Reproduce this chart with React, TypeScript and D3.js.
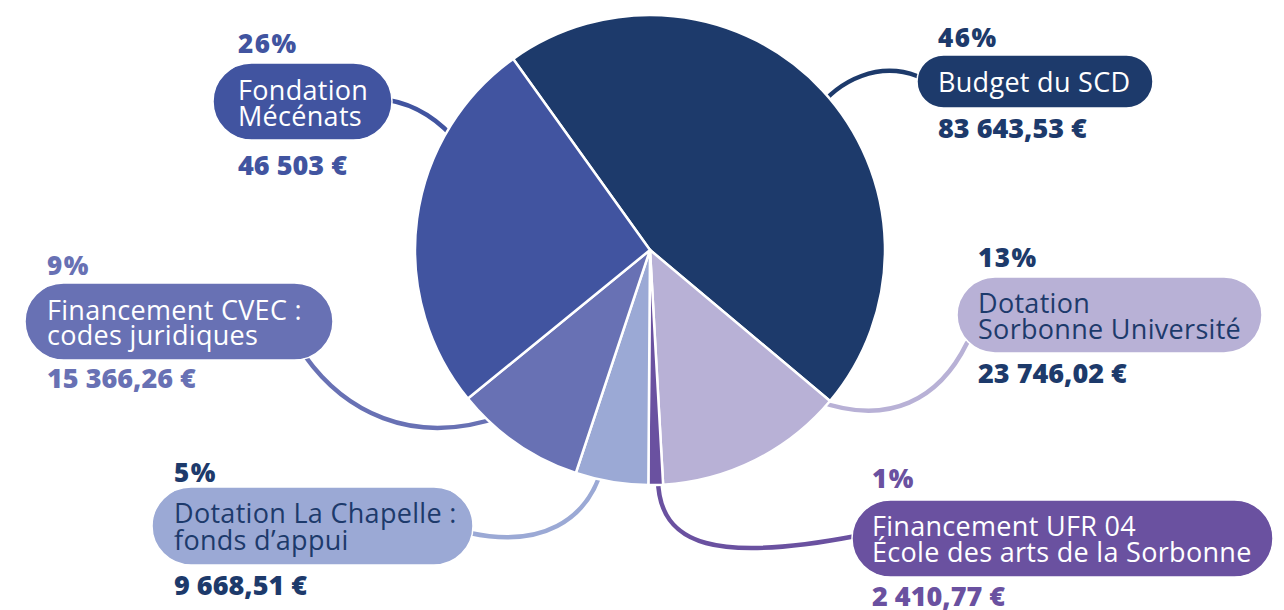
import React from "react";
import * as d3 from "d3";

const categories = [
  "Budget du SCD",
  "Dotation Sorbonne Université",
  "Financement UFR 04 École des arts de la Sorbonne",
  "Dotation La Chapelle : fonds d’appui",
  "Financement CVEC : codes juridiques",
  "Fondation Mécénats",
];
const percents = [46, 13, 1, 5, 9, 26];
const amounts = ["83 643,53 €", "23 746,02 €", "2 410,77 €", "9 668,51 €", "15 366,26 €", "46 503 €"];
const labelLines = [
  ["Budget du SCD"],
  ["Dotation", "Sorbonne Université"],
  ["Financement UFR 04", "École des arts de la Sorbonne"],
  ["Dotation La Chapelle :", "fonds d’appui"],
  ["Financement CVEC :", "codes juridiques"],
  ["Fondation", "Mécénats"],
];
const sliceColors = ["#1d3a6b", "#b8b1d6", "#6a51a0", "#9ba9d5", "#6871b4", "#4154a0"];
const pillText = ["#ffffff", "#1d3a6b", "#ffffff", "#1d3a6b", "#ffffff", "#ffffff"];
const numberColors = ["#1d3a6b", "#1d3a6b", "#6a51a0", "#1d3a6b", "#6871b4", "#4154a0"];

// layout (positions of the label pills and connector shapes)
const layout = [
  { x: 917, y: 55, w: 236, h: 53, tx: 938, base: [92], pct: 47, amt: 138,
    link: [[917, 76], [880, 62], [840, 78], [815, 112]] },
  { x: 957, y: 277, w: 305, h: 76, tx: 978, base: [313, 339], pct: 267, amt: 383,
    link: [[967, 343], [940, 398], [890, 428], [815, 400]] },
  { x: 852, y: 500, w: 421, h: 77, tx: 872, base: [536, 562], pct: 488, amt: 606,
    link: [[658, 478], [658, 548], [720, 562], [856, 536]] },
  { x: 152, y: 487, w: 321, h: 78, tx: 174, base: [523, 550], pct: 482, amt: 595,
    link: [[470, 533], [540, 548], [588, 522], [603, 465]] },
  { x: 25, y: 283, w: 308, h: 77, tx: 47, base: [320, 345], pct: 275, amt: 388,
    link: [[305, 356], [342, 408], [410, 450], [505, 415]] },
  { x: 213, y: 63, w: 179, h: 77, tx: 238, base: [100, 126], pct: 53, amt: 175,
    link: [[388, 100], [412, 104], [438, 118], [460, 145]] },
];

const cx = 650;
const cy = 250;
const R = 235;
const startDeg = -35.6;

export default function App() {
  const pie = d3
    .pie<number>()
    .sort(null)
    .value((d) => d)
    .startAngle((startDeg * Math.PI) / 180)
    .endAngle((startDeg * Math.PI) / 180 + 2 * Math.PI);
  const arcs = pie(percents);
  const arc = d3.arc<d3.PieArcDatum<number>>().innerRadius(0).outerRadius(R);

  const linkPath = (pts: number[][]) => {
    const p = d3.path();
    p.moveTo(pts[0][0], pts[0][1]);
    p.bezierCurveTo(pts[1][0], pts[1][1], pts[2][0], pts[2][1], pts[3][0], pts[3][1]);
    return p.toString();
  };

  const font = "'Open Sans', 'DejaVu Sans', sans-serif";

  return (
    <svg
      width={1284}
      height={610}
      style={{ position: "absolute", left: 0, top: 0, background: "#fff" }}
      fontFamily={font}
    >
      {/* connectors */}
      {layout.map((l, i) => (
        <path
          key={"link" + i}
          d={linkPath(l.link)}
          fill="none"
          stroke={sliceColors[i]}
          strokeWidth={4.5}
          strokeLinecap="round"
        />
      ))}
      {/* pie */}
      <g transform={`translate(${cx},${cy})`}>
        {arcs.map((a, i) => (
          <path key={"s" + i} d={arc(a) || ""} fill={sliceColors[i]} stroke="#fff" strokeWidth={2.5} strokeLinejoin="round">
            <title>{categories[i]}</title>
          </path>
        ))}
      </g>
      {/* labels */}
      {layout.map((l, i) => (
        <g key={"lab" + i}>
          <text x={l.tx} y={l.pct} fontSize={26} fontWeight={800} fill={numberColors[i]} letterSpacing={1.5}>
            {percents[i]}%
          </text>
          <rect x={l.x} y={l.y} width={l.w} height={l.h} rx={l.h / 2} ry={l.h / 2} fill={sliceColors[i]} stroke="#fff" strokeWidth={1.5} />
          {labelLines[i].map((t, j) => (
            <text key={j} x={l.tx} y={l.base[j]} fontSize={27} fill={pillText[i]} letterSpacing={0.3}>
              {t}
            </text>
          ))}
          <text x={l.tx} y={l.amt} fontSize={27} fontWeight={800} fill={numberColors[i]} letterSpacing={0}>
            {amounts[i]}
          </text>
        </g>
      ))}
    </svg>
  );
}
